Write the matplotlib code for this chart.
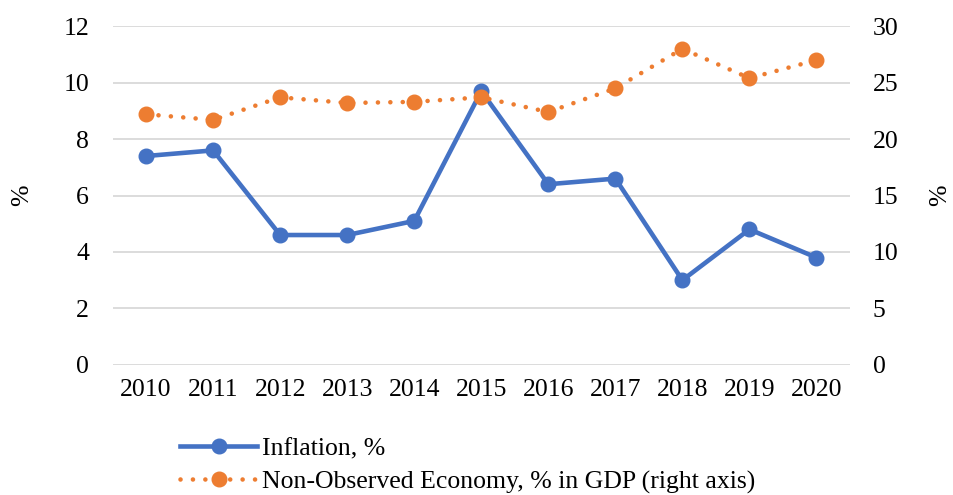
import matplotlib.pyplot as plt
from matplotlib.lines import Line2D

plt.rcParams['font.family'] = ['Liberation Serif', 'DejaVu Serif']

years = ["2010", "2011", "2012", "2013", "2014", "2015", "2016", "2017", "2018", "2019", "2020"]
inflation = [7.4, 7.6, 4.6, 4.6, 5.1, 9.7, 6.4, 6.6, 3.0, 4.8, 3.8]
noe_share = [22.2, 21.7, 23.7, 23.2, 23.3, 23.7, 22.4, 24.5, 28.0, 25.4, 27.0]

left_ticks = [0, 2, 4, 6, 8, 10, 12]
right_ticks = [0, 5, 10, 15, 20, 25, 30]

blue = "#4472c4"
orange = "#ed7d31"
fs = 18.5

fig = plt.figure(figsize=(9.54, 4.95), dpi=100)
ax = fig.add_axes([0.118, 0.263, 0.773, 0.684])
ax2 = ax.twinx()

x = list(range(len(years)))

ax.plot(x, inflation, color=blue, lw=3.3, marker='o', markersize=10.5, zorder=3,
        solid_capstyle='round', solid_joinstyle='round')
ax2.plot(x, noe_share, color=orange, lw=3.3, linestyle=(0, (0.01, 2.7)),
         dash_capstyle='round', marker='o', markersize=10.5, zorder=3)

ax.set_xlim(-0.5, len(years) - 0.5)
ax.set_ylim(0, 12)
ax2.set_ylim(0, 30)
ax.set_yticks(left_ticks)
ax2.set_yticks(right_ticks)
ax.set_xticks(x)
ax.set_xticklabels(years)

ax.grid(axis='y', color='#d9d9d9', lw=1.3)
ax.set_axisbelow(True)
for a in (ax, ax2):
    for s in a.spines.values():
        s.set_visible(False)
    a.tick_params(length=0, labelsize=fs)
ax.tick_params(axis='y', pad=17)
ax2.tick_params(axis='y', pad=16.5)
ax.tick_params(axis='x', pad=10)

ax.set_ylabel("%", fontsize=fs, labelpad=22)
ax2.set_ylabel("%", fontsize=fs, labelpad=22, rotation=90)

handles = [
    Line2D([], [], color=blue, lw=3.3, marker='o', markersize=10.5),
    Line2D([], [], color=orange, lw=3.3, linestyle=(0, (0.01, 2.7)),
           dash_capstyle='round', marker='o', markersize=10.5),
]
labels = ["Inflation, %", "Non-Observed Economy, % in GDP (right axis)"]
fig.legend(handles, labels, loc='upper left', bbox_to_anchor=(0.178, 0.138),
           frameon=False, fontsize=fs, handlelength=3.0, handletextpad=0.2,
           labelspacing=0.4, borderaxespad=0)

fig.savefig("out.png", dpi=100)
